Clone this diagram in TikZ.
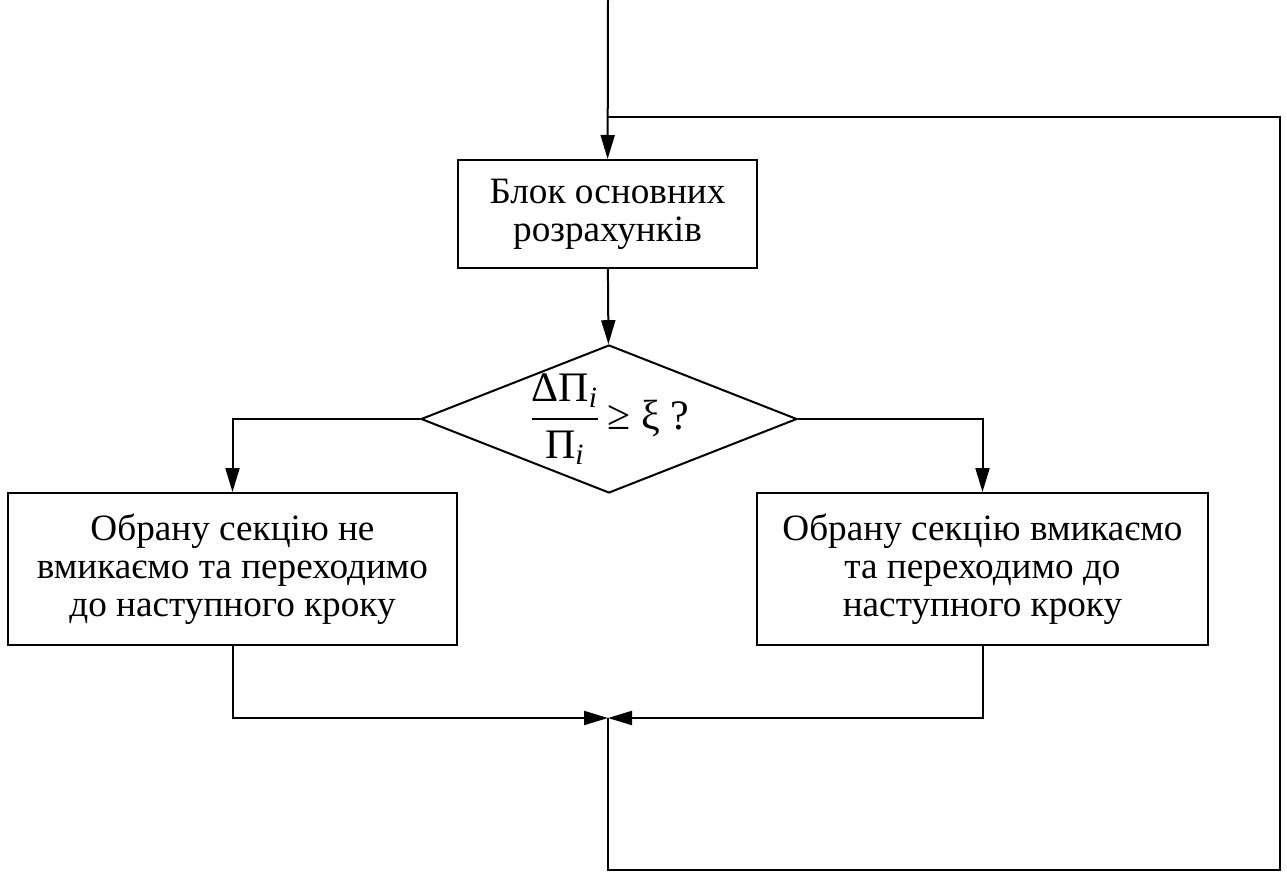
\documentclass[tikz,border=0pt]{standalone}
\usepackage{amsmath}
\usepackage{fontspec}
\setmainfont{Liberation Serif}
\usepackage{tikz}
\usetikzlibrary{shapes.geometric,arrows.meta,positioning}

\tikzset{
    blok/.style={draw, rectangle, align=center, inner sep=0pt,
        minimum height=54pt, font=\fontsize{18.6}{19}\selectfont},
    umova/.style={draw, diamond, aspect=2.54, inner sep=-8pt,
        minimum width=188pt, minimum height=74pt, font=\fontsize{21}{23}\selectfont},
    potik/.style={-{Triangle[length=12pt,width=7pt]}},
}

\begin{document}
\begin{tikzpicture}[x=0.5pt, y=-0.5pt, line width=1pt]
                \useasboundingbox (0,0) rectangle (1287,872);
                \coordinate (start) at (608,0);
                \coordinate (back) at (608,117);
                \coordinate (join) at (608,718);
                \coordinate (corner) at (1280,870);
                \node[blok, minimum width=149.5pt] (calc) at (607.5,214)
                    {Блок основних\\розрахунків};
                \node[umova] (check) at (609,419)
                    {$\displaystyle\frac{\textrm{ΔΠ}_{\textit{i}}}{\textrm{Π}_{\textit{i}}}$\,≥ ξ ?};
                \node[blok, minimum width=224.5pt, minimum height=76pt] (skip) at (232.5,569)
                    {Обрану секцію не\\вмикаємо та переходимо\\до наступного кроку};
                \node[blok, minimum width=225.5pt, minimum height=76pt] (take) at (982.5,569)
                    {Обрану секцію вмикаємо\\та переходимо до\\наступного кроку};
                \draw[potik] (start) -- (calc);
                \draw[potik] (calc) -- (check);
                \draw[potik] (check.west) -| (skip);
                \draw[potik] (check.east) -| (take);
                \draw[potik] (skip) |- (join);
                \draw[potik] (take) |- (join);
                \draw (join) |- (corner) |- (back);
\end{tikzpicture}
\end{document}
